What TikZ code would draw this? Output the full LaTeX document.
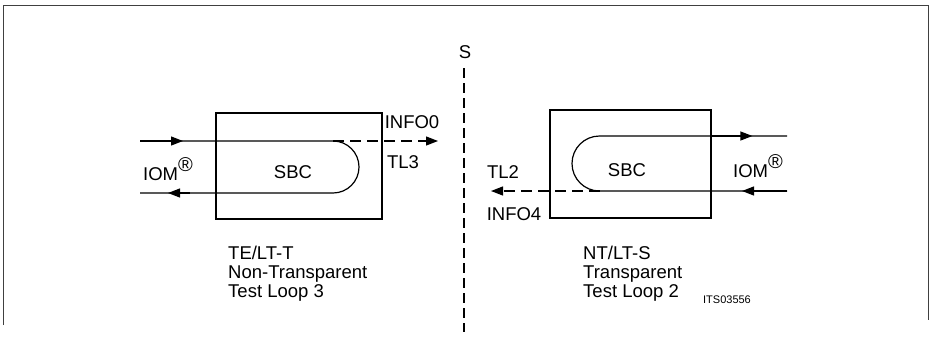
\documentclass[tikz,border=0pt]{standalone}
\usepackage{fontspec}
\setmainfont{Liberation Sans}
\usetikzlibrary{arrows.meta}
\newcommand{\epais}[0]{2.8pt}
\newcommand{\iom}[0]{IOM\raisebox{1.0ex}{\fontsize{20}{20}\selectfont\textregistered}}
\tikzset{
  cadre/.style={draw,line width=\epais,inner sep=0pt},
  fil/.style={line width=1.2pt},
  tirets/.style={fil,dash pattern=on 11pt off 6pt},
  pointe/.style={fil,-{Triangle[length=12pt,width=9pt]}},
  etiq/.style={inner sep=0pt,font=\fontsize{18.5}{19}\selectfont},
  bloc/.style={etiq,align=left,anchor=north west},
}
\begin{document}
\begin{tikzpicture}[x=1pt,y=1pt]
\useasboundingbox (0,0) rectangle (931,-346);
% cadre
	\draw[line width=0.9pt,black!75] (3,-325) -- (3,-5) -- (928,-5) -- (928,-320);
% separation S
	\node[etiq] (s) at (465,-52) {S};
	\coordinate (shaut) at (464,-68);
	\coordinate (sbas) at (464,-332);
	\draw[fil,dash pattern=on 10pt off 5pt] (shaut) -- (sbas);
%
% TE/LT-T
	\node[cadre,minimum width=166pt,minimum height=106pt] (sbcA) at (299,-166) {};
	\node[etiq] (sbcAt) at (293,-172) {SBC};
	\coordinate (entA) at (140,-141);
	\coordinate (sorA) at (140,-193);
	\coordinate (bouA) at (333,-141);
	\coordinate (infoA) at (438,-141);
	\draw[fil] (entA) -- (bouA) arc[start angle=90,end angle=-90,radius=26] -- (sorA);
	\draw[pointe] (entA) -- ++(43,0);
	\draw[pointe] (sorA) ++(50,0) -- ++(-22,0);
	\draw[tirets,-{Triangle[length=12pt,width=9pt]}] (bouA) -- (infoA);
	\node[etiq] (iomA) at (168,-169) {\iom};
	\node[etiq] (info0) at (412,-122) {INFO0};
	\node[etiq] (tl3) at (403,-162) {TL3};
	\node[bloc] (modeA) at (228,-246) {TE/LT-T\\Non-Transparent\\Test Loop 3};
%
% NT/LT-S
	\node[cadre,minimum width=161pt,minimum height=108pt] (sbcB) at (630.5,-164) {};
	\node[etiq] (sbcBt) at (627,-170) {SBC};
	\coordinate (entB) at (787,-136);
	\coordinate (sorB) at (787,-191);
	\coordinate (bouB) at (599.5,-136);
	\coordinate (finB) at (599.5,-191);
	\coordinate (infoB) at (491,-191);
	\draw[fil] (entB) -- (bouB) arc[start angle=90,end angle=270,radius=27.5] -- (sorB);
	\draw[pointe] (sbcB.east |- entB) -- ++(40,0);
	\draw[pointe] (sorB) -- ++(-45,0);
	\draw[tirets,-{Triangle[length=12pt,width=9pt]}] (finB) -- (infoB);
	\node[etiq] (iomB) at (758,-166) {\iom};
	\node[etiq] (tl2) at (503,-172) {TL2};
	\node[etiq] (info4) at (514,-214) {INFO4};
	\node[bloc] (modeB) at (583,-246) {NT/LT-S\\Transparent\\Test Loop 2};
	\node[inner sep=0pt,font=\fontsize{11}{12}\selectfont] (ref) at (727,-300) {ITS03556};
%
\end{tikzpicture}
\end{document}
